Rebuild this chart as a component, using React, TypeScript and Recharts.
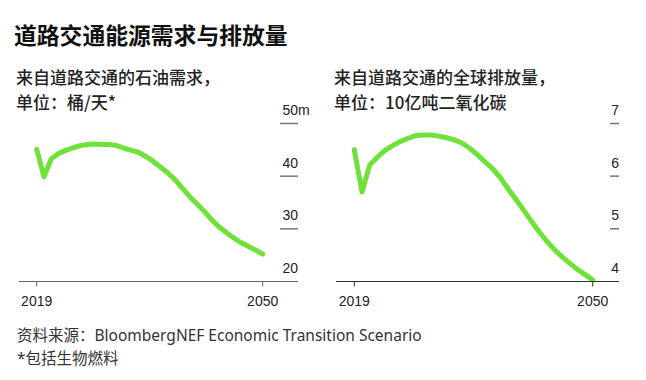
import { LineChart, Line, XAxis, YAxis } from "recharts";

const years = [
  2019, 2020, 2021, 2022, 2023, 2024, 2025, 2026, 2027, 2028, 2029, 2030, 2031, 2032, 2033, 2034,
  2035, 2036, 2037, 2038, 2039, 2040, 2041, 2042, 2043, 2044, 2045, 2046, 2047, 2048, 2049, 2050,
];

// million barrels per day
const oilDemand = [
  45.1, 39.9, 43.3, 44.3, 44.9, 45.4, 45.8, 46.0, 46.1, 46.0, 46.0, 45.8, 45.3, 44.9, 44.5, 43.7,
  42.8, 41.7, 40.6, 39.3, 37.7, 36.1, 34.7, 33.3, 31.7, 30.4, 29.3, 28.3, 27.4, 26.7, 26.0, 25.2,
];

// billion tonnes CO2
const emissions = [
  6.5, 5.7, 6.21, 6.36, 6.49, 6.58, 6.66, 6.72, 6.77, 6.78, 6.78, 6.76, 6.73, 6.69, 6.63, 6.53,
  6.41, 6.27, 6.14, 5.97, 5.76, 5.56, 5.36, 5.15, 4.95, 4.77, 4.61, 4.47, 4.35, 4.23, 4.13, 4.03,
];

const xTicks = [2019, 2050];
const oilTicks = [20, 30, 40, 50];
const emissionTicks = [4, 5, 6, 7];

const oilData = years.map((year, i) => ({ year, value: oilDemand[i] }));
const emissionData = years.map((year, i) => ({ year, value: emissions[i] }));

const GREEN = "#6fe23a";
const TICK_FONT = '"Liberation Sans", Arial, sans-serif';
const CJK_FONT = '"Noto Sans CJK SC", "Noto Sans", sans-serif';

// label sits above a short rule, right-aligned to the plot edge
function RightTick(props: any) {
  const { x, y, payload, top, bottom, suffix, lineLen } = props;
  return (
    <g>
      <text x={x} y={y - 8.5} textAnchor="end" fontSize={14} fontFamily={TICK_FONT} fill="#222">
        {payload.value}
      </text>
      {payload.value === top && suffix ? (
        <text x={x} y={y - 8.5} textAnchor="start" fontSize={14} fontFamily={TICK_FONT} fill="#222">
          {suffix}
        </text>
      ) : null}
      {payload.value !== bottom && (
        <line x1={x - lineLen} x2={x} y1={y} y2={y} stroke="#777" strokeWidth={1.5} />
      )}
    </g>
  );
}

const subStyle: React.CSSProperties = {
  position: "absolute",
  fontSize: 17,
  lineHeight: "17px",
  fontWeight: 500,
  color: "#222",
  whiteSpace: "nowrap",
};

export default function App() {
  return (
    <div
      style={{
        position: "absolute",
        left: 0,
        top: 0,
        width: 646,
        height: 380,
        background: "#fff",
        overflow: "hidden",
        fontFamily: CJK_FONT,
      }}
    >
      <div
        style={{
          position: "absolute",
          left: 14,
          top: 24,
          fontSize: 22.8,
          lineHeight: "22.8px",
          fontWeight: 700,
          color: "#111",
          whiteSpace: "nowrap",
        }}
      >
        道路交通能源需求与排放量
      </div>
      <div style={{ ...subStyle, left: 16, top: 68 }}>来自道路交通的石油需求，</div>
      <div style={{ ...subStyle, left: 16, top: 92.5 }}>单位：桶/天*</div>
      <div style={{ ...subStyle, left: 334, top: 68 }}>来自道路交通的全球排放量，</div>
      <div style={{ ...subStyle, left: 334, top: 92.5 }}>单位：10亿吨二氧化碳</div>

      <div style={{ position: "absolute", left: 0, top: 0 }}>
        <LineChart
          width={646}
          height={330}
          data={oilData}
          margin={{ top: 123.5, left: 19, right: 347, bottom: 18.5 }}
        >
          <XAxis
            dataKey="year"
            type="number"
            domain={[2019, 2050]}
            ticks={xTicks}
            padding={{ left: 17.7, right: 35.3 }}
            height={30}
            stroke="#666"
            tickSize={5}
            tickMargin={10}
            tick={{ fontSize: 14, fontFamily: TICK_FONT, fill: "#222" }}
          />
          <YAxis
            orientation="right"
            domain={[20, 50]}
            ticks={oilTicks}
            width={1}
            axisLine={false}
            tickLine={false}
            tickSize={0}
            tickMargin={0}
            interval={0}
            tick={<RightTick top={50} bottom={20} suffix="m" lineLen={18} />}
          />
          <Line
            dataKey="value"
            type="linear"
            stroke={GREEN}
            strokeWidth={5}
            strokeLinecap="round"
            strokeLinejoin="round"
            dot={false}
            isAnimationActive={false}
          />
        </LineChart>
      </div>

      <div style={{ position: "absolute", left: 0, top: 0 }}>
        <LineChart
          width={646}
          height={330}
          data={emissionData}
          margin={{ top: 123.5, left: 336, right: 26, bottom: 18.5 }}
        >
          <XAxis
            dataKey="year"
            type="number"
            domain={[2019, 2050]}
            ticks={xTicks}
            padding={{ left: 18.3, right: 26.3 }}
            height={30}
            stroke="#333"
            tickSize={5}
            tickMargin={10}
            tick={{ fontSize: 14, fontFamily: TICK_FONT, fill: "#222" }}
          />
          <YAxis
            orientation="right"
            domain={[4, 7]}
            ticks={emissionTicks}
            width={1}
            axisLine={false}
            tickLine={false}
            tickSize={0}
            tickMargin={0}
            interval={0}
            tick={<RightTick top={7} bottom={4} suffix="" lineLen={9} />}
          />
          <Line
            dataKey="value"
            type="linear"
            stroke={GREEN}
            strokeWidth={5}
            strokeLinecap="round"
            strokeLinejoin="round"
            dot={false}
            isAnimationActive={false}
          />
        </LineChart>
      </div>

      <div
        style={{
          position: "absolute",
          left: 17,
          top: 324,
          fontSize: 15.5,
          lineHeight: "23.3px",
          color: "#333",
          fontFamily: '"Noto Sans", "Noto Sans CJK SC", sans-serif',
          whiteSpace: "nowrap",
        }}
      >
        资料来源：BloombergNEF Economic Transition Scenario
        <br />
        *包括生物燃料
      </div>
    </div>
  );
}
